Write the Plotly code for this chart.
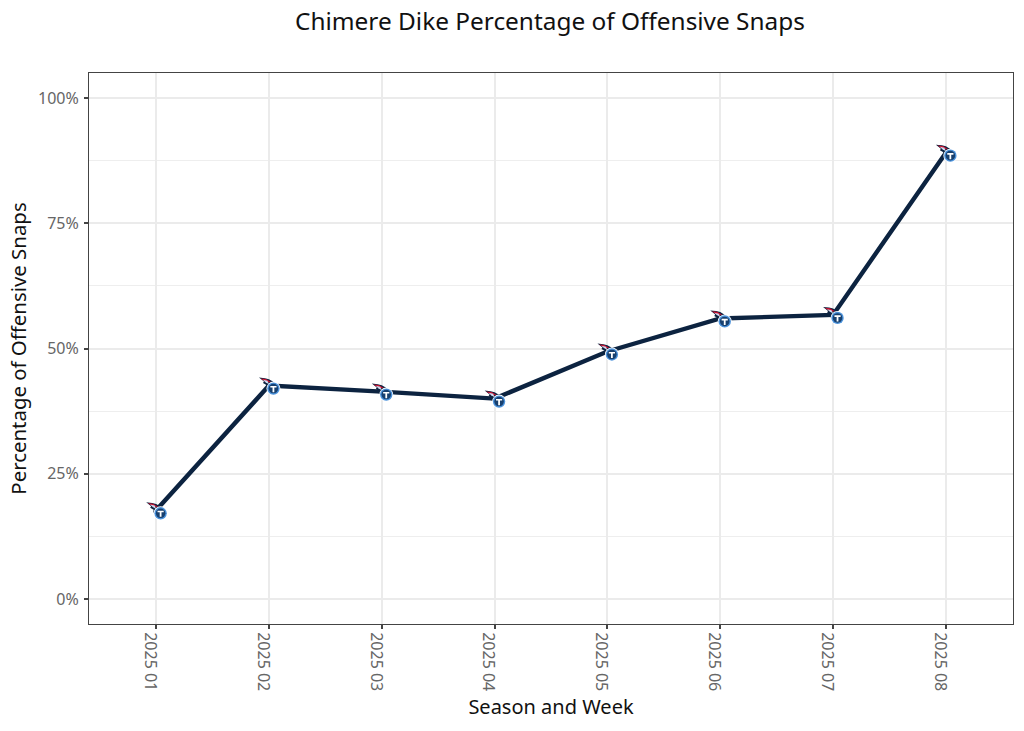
import base64
import plotly.graph_objects as go

weeks = ["2025 01", "2025 02", "2025 03", "2025 04", "2025 05", "2025 06", "2025 07", "2025 08"]
snap_pct = [17.7, 42.6, 41.4, 40.0, 49.4, 56.0, 56.7, 89.1]
y_ticks = [0, 25, 50, 75, 100]
y_labels = ["0%", "25%", "50%", "75%", "100%"]
title = "Chimere Dike Percentage of Offensive Snaps"

logo_svg = """<svg xmlns="http://www.w3.org/2000/svg" viewBox="0 0 24 20">
<path d="M2 2 L8 2.6 L12 3.6 L16 6 L18 9 L13 12 L14.5 15 L9 12 L9.5 9.5 L6 7.5 L7 6 Z" fill="#0c2340"/>
<path d="M3.5 2.8 L9 3.4 L14 6.4 L9.5 6.8 Z" fill="#c8102e"/>
<path d="M6 4.2 L10.5 5.2 L12 8.6 L8.5 6.6 Z" fill="#c9daf0"/>
<circle cx="16.5" cy="13" r="7" fill="#ffffff"/>
<circle cx="16.5" cy="13" r="6.2" fill="#4b92db"/>
<circle cx="16.5" cy="13" r="4.8" fill="#17406f"/>
<path d="M13.4 10.4 H19.6 V12 H17.4 V16.6 H15.6 V12 H13.4 Z" fill="#ffffff"/>
</svg>"""
logo_uri = "data:image/svg+xml;base64," + base64.b64encode(logo_svg.encode()).decode()

fig = go.Figure()
fig.add_trace(go.Scatter(x=weeks, y=snap_pct, mode="lines",
                         line=dict(color="#0c2340", width=4.4), hoverinfo="skip"))

for wk, val in zip(weeks, snap_pct):
    fig.add_layout_image(dict(source=logo_uri, xref="x", yref="y", x=wk, y=val,
                              sizex=0.2127, sizey=3.98, xanchor="center", yanchor="middle",
                              sizing="contain", layer="above"))

grid_axis = dict(showline=True, mirror=True, linecolor="#444444", linewidth=1,
                 gridcolor="#ebebeb", gridwidth=2, zeroline=False,
                 ticks="outside", ticklen=4, tickwidth=2, tickcolor="#444444",
                 tickfont=dict(family="Noto Sans", size=16, color="#666666"))

fig.update_layout(
    width=1024, height=731, autosize=False,
    margin=dict(l=89, r=11, t=73, b=107),
    paper_bgcolor="#ffffff", plot_bgcolor="#ffffff", showlegend=False,
    font=dict(family="Noto Sans", color="#111111"),
    title=dict(text=title, x=550 / 1024, xanchor="center", y=1 - 21 / 731, yanchor="middle",
               font=dict(family="Noto Sans", size=24.4, color="#111111")),
    xaxis=dict(grid_axis, type="category", categoryorder="array", categoryarray=weeks,
               range=[-0.595, 7.595], tickangle=90, ticklabelshift=-6,
               title=dict(text="Season and Week", standoff=9,
                          font=dict(family="Noto Sans", size=20, color="#111111"))),
    yaxis=dict(grid_axis, range=[-5, 105], tickvals=y_ticks, ticktext=y_labels,
               ticklabelstandoff=2,
               minor=dict(tickvals=[12.5, 37.5, 62.5, 87.5], showgrid=True,
                          gridcolor="#eeeeee", gridwidth=1, ticks=""),
               title=dict(text="Percentage of Offensive Snaps", standoff=5,
                          font=dict(family="Noto Sans", size=20.4, color="#111111"))),
)
fig.write_html("out.html", config={"displayModeBar": False},
               post_script="document.body.style.margin='0';")
